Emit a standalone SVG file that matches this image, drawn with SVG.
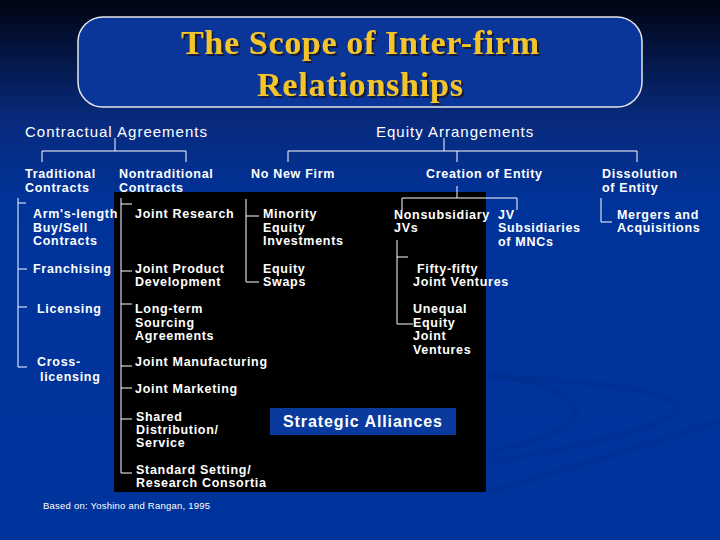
<svg xmlns="http://www.w3.org/2000/svg" width="720" height="540" viewBox="0 0 720 540">
  <defs>
    <linearGradient id="bg" x1="0" y1="0" x2="0" y2="1">
      <stop offset="0" stop-color="#010510"/>
      <stop offset="0.08" stop-color="#03123a"/>
      <stop offset="0.22" stop-color="#082a7c"/>
      <stop offset="0.38" stop-color="#00339a"/>
      <stop offset="1" stop-color="#00349c"/>
    </linearGradient>
    <filter id="shadow" x="-5%" y="-20%" width="110%" height="150%">
      <feDropShadow dx="2" dy="2" stdDeviation="0.6" flood-color="#151530" flood-opacity="0.9"/>
    </filter>
    <style>
      .hdr { font-family: "Liberation Sans", Arial, sans-serif; font-size: 15px; fill: #ffffff; letter-spacing: 1px; }
      .lbl { font-family: "Liberation Sans", Arial, sans-serif; font-size: 12.5px; font-weight: bold; fill: #ffffff; letter-spacing: 0.7px; }
      .title { font-family: "Liberation Serif", "Times New Roman", serif; font-size: 34px; font-weight: bold; fill: #f4c52a; text-anchor: middle; filter: url(#shadow); }
      .conn { stroke: #ffffff; stroke-width: 1; fill: none; }
      .note { font-family: "Liberation Sans", Arial, sans-serif; font-size: 9.5px; fill: #ffffff; }
      .swoosh { fill: none; stroke: #002a88; stroke-opacity: 0.3; stroke-width: 6; }
    </style>
  </defs>

  <rect x="0" y="0" width="720" height="540" fill="url(#bg)"/>
  <g id="background-swooshes">
    <path class="swoosh" d="M490,373 C560,385 585,405 573,418 C560,435 520,445 490,452"/>
    <path class="swoosh" d="M490,378 C610,380 690,395 675,412 C660,430 560,450 490,462"/>
    <path class="swoosh" d="M490,492 C560,470 650,445 720,420"/>
  </g>

  <g id="title">
    <rect x="78" y="17" width="564" height="90" rx="25" ry="25" fill="#0a3699" stroke="#e6e6e6" stroke-width="1.5"/>
    <text class="title" x="360" y="54" textLength="358" lengthAdjust="spacing">The Scope of Inter-firm</text>
    <text class="title" x="360" y="96" textLength="206" lengthAdjust="spacing">Relationships</text>
  </g>

  <rect id="strategic-area" x="114" y="192" width="372" height="300" fill="#000000"/>

  <g id="connectors">
    <path class="conn" d="M115,138 V151 M42,162 V151 H186 V162"/>
    <path class="conn" d="M444,138 V151 M288,162 V151 H637 V162 M457,151 V162"/>
    <path class="conn" d="M457,186 V198 M402,210 V198 H517 V210"/>
    <path class="conn" d="M601,198 V222 H612"/>
    <path class="conn" d="M18,198 V367 H27 M18,203 H26 M18,269 H27 M18,307 H27"/>
    <path class="conn" d="M121,198 V473 H132 M121,204 H132 M121,271 H132 M121,304 H132 M121,366 H132 M121,388 H132 M121,419 H132"/>
    <path class="conn" d="M246,199 V282 H259 M246,216 H259"/>
    <path class="conn" d="M397,240 V324 H413 M397,257 H408"/>
  </g>

  <g id="contractual">
    <text class="hdr" x="25" y="137">Contractual Agreements</text>
  </g>
  <g id="equity">
    <text class="hdr" x="376" y="137">Equity Arrangements</text>
  </g>

  <g id="traditional"><text class="lbl" x="25" y="178">Traditional</text><text class="lbl" x="25" y="192">Contracts</text></g>
  <g id="nontraditional"><text class="lbl" x="119" y="178">Nontraditional</text><text class="lbl" x="119" y="192">Contracts</text></g>
  <g id="no-new-firm"><text class="lbl" x="251" y="178">No New Firm</text></g>
  <g id="creation"><text class="lbl" x="426" y="178">Creation of Entity</text></g>
  <g id="dissolution"><text class="lbl" x="602" y="178">Dissolution</text><text class="lbl" x="602" y="192">of Entity</text></g>

  <g id="arms-length"><text class="lbl" x="33" y="218">Arm's-length</text><text class="lbl" x="33" y="232">Buy/Sell</text><text class="lbl" x="33" y="245">Contracts</text></g>
  <g id="franchising"><text class="lbl" x="33" y="273">Franchising</text></g>
  <g id="licensing"><text class="lbl" x="37" y="313">Licensing</text></g>
  <g id="cross-licensing"><text class="lbl" x="37" y="366">Cross-</text><text class="lbl" x="40" y="381">licensing</text></g>

  <g id="joint-research"><text class="lbl" x="135" y="218">Joint Research</text></g>
  <g id="joint-product"><text class="lbl" x="135" y="273">Joint Product</text><text class="lbl" x="135" y="286">Development</text></g>
  <g id="long-term"><text class="lbl" x="135" y="313">Long-term</text><text class="lbl" x="135" y="327">Sourcing</text><text class="lbl" x="135" y="340">Agreements</text></g>
  <g id="joint-manufacturing"><text class="lbl" x="135" y="366">Joint Manufacturing</text></g>
  <g id="joint-marketing"><text class="lbl" x="135" y="393">Joint Marketing</text></g>
  <g id="shared-distribution"><text class="lbl" x="136" y="421">Shared</text><text class="lbl" x="136" y="434">Distribution/</text><text class="lbl" x="136" y="447">Service</text></g>
  <g id="standard-setting"><text class="lbl" x="136" y="474">Standard Setting/</text><text class="lbl" x="136" y="487">Research Consortia</text></g>

  <g id="minority"><text class="lbl" x="263" y="218">Minority</text><text class="lbl" x="263" y="232">Equity</text><text class="lbl" x="263" y="245">Investments</text></g>
  <g id="equity-swaps"><text class="lbl" x="263" y="273">Equity</text><text class="lbl" x="263" y="286">Swaps</text></g>

  <g id="nonsubsidiary"><text class="lbl" x="394" y="219">Nonsubsidiary</text><text class="lbl" x="394" y="232">JVs</text></g>
  <g id="jv-subsidiaries"><text class="lbl" x="498" y="219">JV</text><text class="lbl" x="498" y="232">Subsidiaries</text><text class="lbl" x="498" y="246">of MNCs</text></g>
  <g id="mergers"><text class="lbl" x="617" y="219">Mergers and</text><text class="lbl" x="617" y="232">Acquisitions</text></g>
  <g id="fifty-fifty"><text class="lbl" x="417" y="273">Fifty-fifty</text><text class="lbl" x="413" y="286">Joint Ventures</text></g>
  <g id="unequal"><text class="lbl" x="413" y="313">Unequal</text><text class="lbl" x="413" y="327">Equity</text><text class="lbl" x="413" y="340">Joint</text><text class="lbl" x="413" y="354">Ventures</text></g>

  <g id="strategic-alliances">
    <rect x="270" y="408" width="186" height="27" fill="#0a3a9e"/>
    <text x="283" y="427" font-family="'Liberation Sans', Arial, sans-serif" font-size="16" font-weight="bold" fill="#ffffff" textLength="159" lengthAdjust="spacing">Strategic Alliances</text>
  </g>

  <text class="note" x="43" y="509" textLength="167" lengthAdjust="spacing">Based on: Yoshino and Rangan, 1995</text>
</svg>
